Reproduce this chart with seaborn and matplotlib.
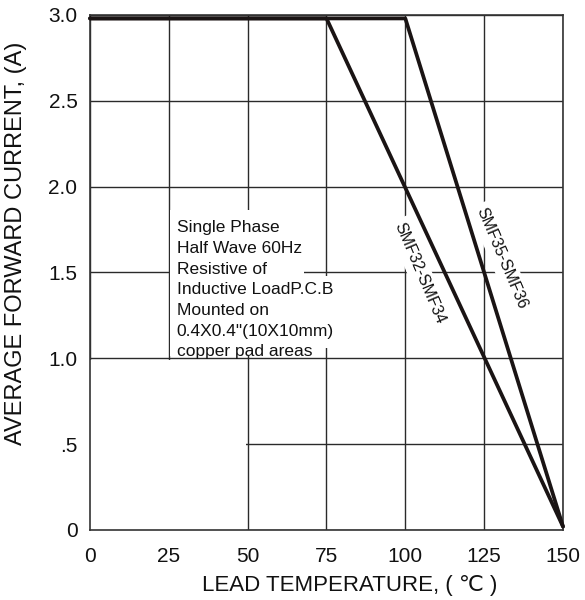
import pandas as pd
import matplotlib.pyplot as plt
import matplotlib.patches as mpatches
import seaborn as sns

# derating curves
temp_smf32 = [0, 75, 150]
current_smf32 = [2.98, 2.98, 0.02]
temp_smf35 = [0, 100, 150]
current_smf35 = [2.98, 2.98, 0.02]

x_ticks = [0, 25, 50, 75, 100, 125, 150]
y_ticks = [0, 0.5, 1.0, 1.5, 2.0, 2.5, 3.0]
y_tick_labels = ['0', '.5', '1.0', '1.5', '2.0', '2.5', '3.0']

note_lines = ['Single Phase', 'Half Wave 60Hz', 'Resistive of',
              'Inductive LoadP.C.B', 'Mounted on',
              '0.4X0.4"(10X10mm)', 'copper pad areas']

df = pd.concat([
    pd.DataFrame({'temp': temp_smf32, 'current': current_smf32, 'part': 'SMF32-SMF34'}),
    pd.DataFrame({'temp': temp_smf35, 'current': current_smf35, 'part': 'SMF35-SMF36'}),
])

sns.set_style('white')
plt.rcParams['font.family'] = ['Liberation Sans', 'DejaVu Sans']

fig = plt.figure(figsize=(5.85, 6), dpi=100)
ax = fig.add_axes([0.1538, 0.1167, 0.8086, 0.8583])

# grid
ax.set_xticks(x_ticks)
ax.set_yticks(y_ticks)
ax.set_yticklabels(y_tick_labels)
ax.grid(True, color='#2a2a2a', linewidth=1.0, zorder=0)
ax.set_axisbelow(True)

# white masks where the original sheet leaves the grid blank
ax.add_patch(mpatches.Rectangle((0, 0), 49.6, 0.988, facecolor='white',
                                edgecolor='none', zorder=1.5))
ax.add_patch(mpatches.Rectangle((25.4, 1.012), 42.6, 0.85, facecolor='white',
                                edgecolor='none', zorder=1.5))
ax.add_patch(mpatches.Rectangle((67.9, 1.06), 11.0, 0.42, facecolor='white',
                                edgecolor='none', zorder=1.5))

sns.lineplot(data=df, x='temp', y='current', hue='part', sort=False,
             palette=['#1a1414', '#1a1414'], linewidth=2.7, legend=False,
             ax=ax, zorder=3, clip_on=False)

for i, line in enumerate(note_lines):
    ax.text(27.5, 1.76 - i * 0.1205, line, fontsize=12.5, ha='left', va='center',
            zorder=2, color='#111111')

ax.text(104.6, 1.495, 'SMF32-SMF34', rotation=-67, fontsize=11.5, ha='center',
            va='center', rotation_mode='anchor', zorder=2, color='#111111',
            bbox=dict(facecolor='white', edgecolor='none', pad=3))
ax.text(130.5, 1.585, 'SMF35-SMF36', rotation=-67, fontsize=11.5, ha='center',
            va='center', rotation_mode='anchor', zorder=2, color='#111111',
            bbox=dict(facecolor='white', edgecolor='none', pad=3))

ax.set_xlim(0, 150)
ax.set_ylim(0, 3.0)
ax.tick_params(axis='both', length=0, labelsize=15, colors='#111111')
ax.tick_params(axis='x', pad=12)
ax.tick_params(axis='y', pad=9)
ax.set_xlabel('LEAD TEMPERATURE, ( \u2103 )', fontsize=16, color='#111111')
ax.set_ylabel('AVERAGE FORWARD CURRENT, (A)', fontsize=17, color='#111111')
ax.xaxis.set_label_coords(0.55, -0.088)
ax.yaxis.set_label_coords(-0.134, 0.557)
for s in ax.spines.values():
    s.set_color('#333333')
    s.set_linewidth(1.2)
    s.set_visible(True)

fig.savefig('out.png', dpi=100)
